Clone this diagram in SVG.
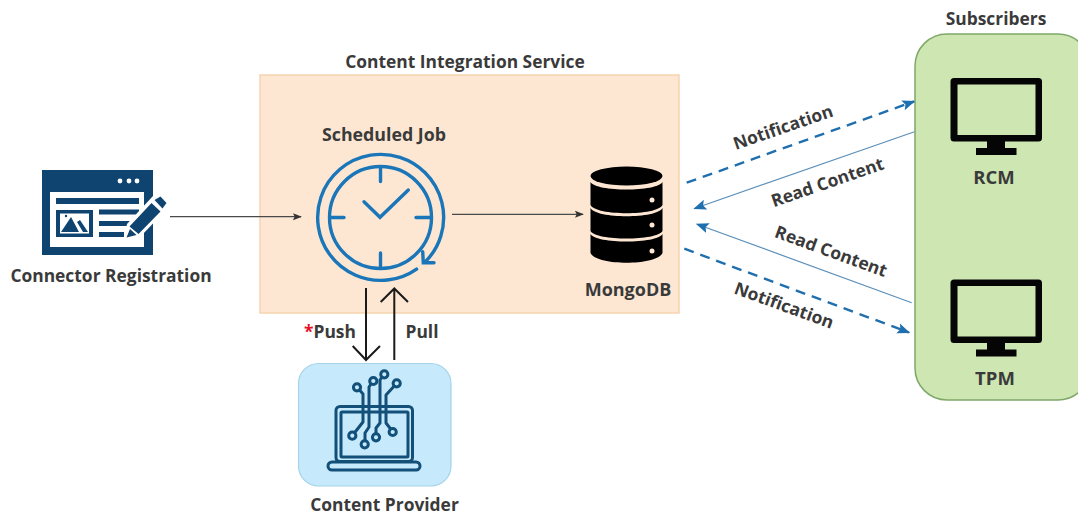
<svg xmlns="http://www.w3.org/2000/svg" width="1078" height="514" viewBox="0 0 1078 514">
<style>
text{font-family:"Open Sans","Liberation Sans",sans-serif;font-weight:700;font-size:17.400px;fill:#3a3a3a;text-anchor:middle}
.thin{fill:none;stroke:#4a4a4a;stroke-width:1.2}
.big{fill:none;stroke:#1a1a1a;stroke-width:2}
.dash{fill:none;stroke:#1f6fae;stroke-width:2.4;stroke-dasharray:10 7}
.read{fill:none;stroke:#5b8fb9;stroke-width:1.2}
.navy{fill:#0f4470}
.clk{fill:none;stroke:#1a76b8;stroke-width:3.4;stroke-linecap:round}
.lap{fill:none;stroke:#125079;stroke-width:3;stroke-linecap:round;stroke-linejoin:round}
.dot{fill:#c6e9fb;stroke:#125079;stroke-width:3}
</style>
<defs>
<marker id="sm" viewBox="0 0 10 10" refX="9" refY="5" markerWidth="9" markerHeight="9" markerUnits="userSpaceOnUse" orient="auto"><path d="M0 1 L10 5 L0 9 L2 5Z" fill="#333"/></marker>
<marker id="bl" viewBox="0 0 10 10" refX="9" refY="5" markerWidth="13" markerHeight="13" markerUnits="userSpaceOnUse" orient="auto"><path d="M0 1 L10 5 L0 9 L2 5Z" fill="#1f6fae"/></marker>
<g id="mon"><path fill-rule="evenodd" d="M954 78H1038.500a3.500 3.500 0 0 1 3.500 3.500V138a3.500 3.500 0 0 1-3.500 3.500H1005V148H1016.500V155H976V148H987V141.500H954a3.500 3.500 0 0 1-3.500-3.500V81.500A3.500 3.500 0 0 1 954 78ZM957.500 84.500V135H1035.500V84.500Z" fill="#050505"/></g>
</defs>
<rect width="1078" height="514" fill="#fff"/>

<g id="content-integration-service">
<rect x="260" y="75" width="419" height="238" fill="#fde7d3" stroke="#f6d3ae" stroke-width="1.500"/>
<text x="465" y="68">Content Integration Service</text>
</g>

<g id="connector-registration">
<rect x="42" y="170" width="111" height="85" class="navy"/>
<rect x="50" y="192" width="94" height="55" fill="#fff"/>
<circle cx="120" cy="181" r="2.400" fill="#fff"/><circle cx="129" cy="181" r="2.400" fill="#fff"/><circle cx="137" cy="181" r="2.400" fill="#fff"/>
<rect x="56" y="198" width="83" height="6" class="navy"/>
<rect x="56" y="210" width="37" height="27" class="navy"/>
<rect x="60" y="213.500" width="29" height="20" fill="#fff"/>
<path d="M61 232L71 217L79 232ZM77 222L80 220L88 232H83Z" class="navy"/>
<circle cx="66" cy="216" r="1.200" class="navy"/>
<rect x="99" y="209.500" width="40" height="5" class="navy"/>
<rect x="99" y="221" width="33" height="5" class="navy"/>
<rect x="99" y="232" width="25" height="5" class="navy"/>
<path d="M124 240L127 224L153 196L162 193L170 203L166 210L141 236Z" fill="#fff"/>
<path d="M126.500 237.500L130 229L136.500 235ZM129.500 226.500L151.500 203L160.500 211.500L138.500 234Z" class="navy"/>
<path d="M154.500 200L160.500 196.500L166.500 203L162.500 208.500Z" class="navy"/>
<text x="111" y="282">Connector Registration</text>
</g>

<g id="scheduled-job">
<text x="384" y="141" style="font-size:17.800px">Scheduled Job</text>
<circle cx="380.500" cy="217.500" r="51" class="clk"/>
<path d="M416.600 269.100A63 63 0 1 1 425.800 261.300" class="clk"/>
<path d="M380.500 168V181.500M380.500 253V267M330 217.500H344M416 217.500H431" class="clk"/>
<path d="M364 201.700L380 217.300L408.300 190" class="clk"/>
<path d="M422.700 251.700L423.300 262.700L434 262.700" class="clk"/>
</g>

<g id="mongodb">
<ellipse cx="626.500" cy="176" rx="36" ry="9.500" fill="#000"/>
<path d="M590.500 182C596 192 657 192 662.500 182V205C657 216 596 216 590.500 205Z" fill="#000"/>
<path d="M590.500 208C596 219 657 219 662.500 208V231C657 241 596 241 590.500 231Z" fill="#000"/>
<path d="M590.500 234C596 244 657 244 662.500 234V253C657 266 596 266 590.500 253Z" fill="#000"/>
<circle cx="652" cy="200" r="2.500" fill="#fde7d3"/><circle cx="652" cy="225" r="2.500" fill="#fde7d3"/><circle cx="652" cy="251" r="2.500" fill="#fde7d3"/>
<text x="628" y="296" style="font-size:18px">MongoDB</text>
</g>

<g id="content-provider">
<rect x="298.500" y="363.500" width="152.500" height="122.500" rx="20" fill="#c6e9fb" stroke="#a5d3ea" stroke-width="1.200"/>
<rect x="336" y="406.500" width="76.500" height="55" rx="4" class="lap"/>
<rect x="341" y="412" width="67" height="45" rx="1" class="lap"/>
<path d="M332 462H416a2 2 0 0 1 0 8H332a2 2 0 0 1 0-8Z" class="lap"/>
<path d="M357 387L363 394V422L352 436M373 381L369 387V427L365 433V444M384 374L380 380V423L376 428V437M397 383L386 395V423L393 432" class="lap"/>
<circle cx="357" cy="387.300" r="3.600" class="dot"/>
<circle cx="373.300" cy="381" r="3.600" class="dot"/>
<circle cx="384.300" cy="374.300" r="3.600" class="dot"/>
<circle cx="396.700" cy="383.300" r="3.600" class="dot"/>
<circle cx="352.300" cy="435.700" r="3.600" class="dot"/>
<circle cx="364.700" cy="444.300" r="3.600" class="dot"/>
<circle cx="376" cy="437.300" r="3.600" class="dot"/>
<circle cx="392.700" cy="432" r="3.600" class="dot"/>
<text x="384.500" y="511">Content Provider</text>
</g>

<g id="subscribers">
<rect x="915" y="34" width="175" height="366" rx="32" fill="#cde6b2" stroke="#7fa868" stroke-width="1.500"/>
<text x="996" y="25">Subscribers</text>
</g>
<g id="rcm"><use href="#mon"/><text x="994" y="184" style="font-size:18.500px">RCM</text></g>
<g id="tpm"><use href="#mon" y="201.500"/><text x="995" y="385" style="font-size:18.500px">TPM</text></g>

<g id="connectors">
<line x1="170" y1="216.700" x2="301" y2="216.700" class="thin" marker-end="url(#sm)"/>
<line x1="452" y1="214.300" x2="583" y2="214.300" class="thin" marker-end="url(#sm)"/>
<path d="M366 288V360M352.700 346L366 360L380 346" class="big"/>
<path d="M394.300 360V288.500M380.700 302L394.300 288.500L408 302" class="big"/>
<line x1="686.700" y1="182.700" x2="914" y2="101.500" class="dash" marker-end="url(#bl)"/>
<line x1="914.500" y1="131.700" x2="694.500" y2="208.500" class="read" marker-end="url(#bl)"/>
<line x1="911.700" y1="302.700" x2="697" y2="224.200" class="read" marker-end="url(#bl)"/>
<line x1="684.300" y1="248.700" x2="909" y2="332.500" class="dash" marker-end="url(#bl)"/>
<g id="connector-labels">
<text x="330" y="338"><tspan fill="#e8112d">*</tspan>Push</text>
<text x="422" y="338">Pull</text>
<text transform="translate(785 133) rotate(-19)">Notification</text>
<text transform="translate(829.500 188) rotate(-19)">Read Content</text>
<text transform="translate(829 257) rotate(20)">Read Content</text>
<text transform="translate(782 311) rotate(20)">Notification</text>
</g>
</g>
</svg>
